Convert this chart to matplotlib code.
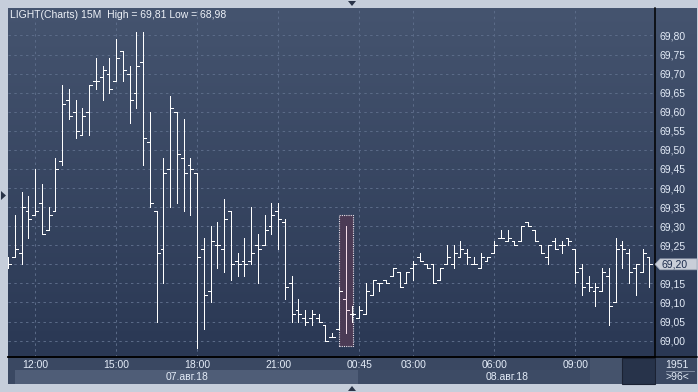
import numpy as np
import matplotlib
matplotlib.use('Agg')
import matplotlib.pyplot as plt
from matplotlib.collections import LineCollection
from matplotlib.patches import Rectangle, Polygon
import matplotlib.transforms as mtransforms

# 15 minute bars, LIGHT (Charts), 96 bars on screen
opens = [69.20, 69.22, 69.23, 69.34, 69.33, 69.36, 69.29, 69.34, 69.47, 69.63,
         69.60, 69.54, 69.60, 69.68, 69.69, 69.70, 69.68, 69.76, 69.70, 69.65,
         69.73, 69.52, 69.34, 69.24, 69.45, 69.60, 69.48, 69.46, 69.44, 69.24,
         69.13, 69.25, 69.24, 69.34, 69.21, 69.21, 69.21, 69.25, 69.25, 69.30,
         69.34, 69.31, 69.15, 69.08, 69.06, 69.06, 69.06, 69.04, 69.01, 69.03,
         69.11, 69.07, 69.06, 69.07, 69.12, 69.15, 69.16, 69.17, 69.18, 69.15,
         69.19, 69.22, 69.20, 69.20, 69.16, 69.20, 69.20, 69.22, 69.23, 69.20,
         69.19, 69.21, 69.23, 69.27, 69.26, 69.26, 69.26, 69.31, 69.29, 69.25,
         69.22, 69.26, 69.25, 69.27, 69.24, 69.19, 69.15, 69.13, 69.13, 69.17,
         69.10, 69.25, 69.23, 69.19, 69.18, 69.22]
highs = [69.22, 69.33, 69.39, 69.38, 69.45, 69.41, 69.35, 69.48, 69.67, 69.66,
         69.63, 69.61, 69.67, 69.74, 69.72, 69.74, 69.79, 69.76, 69.72, 69.81,
         69.81, 69.60, 69.34, 69.48, 69.64, 69.60, 69.58, 69.48, 69.44, 69.27,
         69.30, 69.31, 69.37, 69.34, 69.23, 69.27, 69.35, 69.28, 69.33, 69.36,
         69.36, 69.32, 69.17, 69.11, 69.08, 69.08, 69.07, 69.04, 69.02, 69.14,
         69.30, 69.09, 69.09, 69.15, 69.16, 69.15, 69.16, 69.19, 69.18, 69.18,
         69.21, 69.23, 69.20, 69.20, 69.19, 69.25, 69.25, 69.26, 69.24, 69.22,
         69.23, 69.22, 69.26, 69.29, 69.29, 69.26, 69.30, 69.31, 69.29, 69.25,
         69.25, 69.27, 69.26, 69.27, 69.24, 69.20, 69.17, 69.15, 69.19, 69.19,
         69.27, 69.26, 69.24, 69.20, 69.24, 69.22]
lows = [69.19, 69.22, 69.20, 69.27, 69.33, 69.28, 69.29, 69.34, 69.46, 69.58,
        69.53, 69.54, 69.54, 69.66, 69.63, 69.65, 69.68, 69.68, 69.57, 69.61,
        69.46, 69.35, 69.05, 69.15, 69.35, 69.36, 69.34, 69.33, 68.98, 69.03,
        69.10, 69.19, 69.18, 69.16, 69.17, 69.17, 69.20, 69.15, 69.25, 69.28,
        69.24, 69.11, 69.05, 69.05, 69.04, 69.04, 69.05, 69.00, 69.01, 69.03,
        69.02, 69.05, 69.06, 69.07, 69.12, 69.13, 69.15, 69.17, 69.14, 69.15,
        69.16, 69.21, 69.19, 69.15, 69.16, 69.20, 69.19, 69.22, 69.20, 69.20,
        69.19, 69.21, 69.23, 69.27, 69.26, 69.25, 69.26, 69.30, 69.26, 69.23,
        69.20, 69.24, 69.23, 69.25, 69.15, 69.12, 69.13, 69.09, 69.13, 69.04,
        69.10, 69.19, 69.15, 69.12, 69.18, 69.14]
closes = [69.20, 69.24, 69.35, 69.32, 69.34, 69.28, 69.33, 69.45, 69.62, 69.59,
          69.55, 69.59, 69.67, 69.68, 69.71, 69.66, 69.74, 69.71, 69.63, 69.72,
          69.53, 69.36, 69.23, 69.44, 69.61, 69.49, 69.44, 69.45, 69.22, 69.12,
          69.26, 69.25, 69.32, 69.20, 69.20, 69.20, 69.23, 69.24, 69.29, 69.33,
          69.32, 69.14, 69.07, 69.07, 69.05, 69.07, 69.05, 69.00, 69.01, 69.13,
          69.08, 69.07, 69.08, 69.13, 69.16, 69.15, 69.15, 69.19, 69.14, 69.18,
          69.20, 69.21, 69.19, 69.15, 69.19, 69.22, 69.23, 69.24, 69.22, 69.20,
          69.22, 69.22, 69.25, 69.27, 69.27, 69.25, 69.30, 69.30, 69.26, 69.23,
          69.25, 69.24, 69.25, 69.26, 69.18, 69.14, 69.14, 69.14, 69.18, 69.09,
          69.24, 69.24, 69.18, 69.20, 69.23, 69.20]

time_pos = [4, 16, 28, 40, 52, 60, 72, 84]
time_labels = ['12:00', '15:00', '18:00', '21:00', '00:45', '03:00', '06:00', '09:00']
date_pos = [26.5, 73.9]
date_labels = ['07.авг.18', '08.авг.18']
price_ticks = np.arange(69.00, 69.801, 0.05)
selected = 50

W, H = 698, 392
plt.rcParams['font.family'] = ['Liberation Sans', 'DejaVu Sans']
TXT = '#e4ecf8'

fig = plt.figure(figsize=(W / 100, H / 100), dpi=100)
fig.patch.set_facecolor('#c6cedb')

def box(x0, y0, x1, y1):
    # pixel box (top-left origin) -> figure fraction rect
    return [x0 / W, 1 - y1 / H, (x1 - x0) / W, (y1 - y0) / H]

def fx(x):
    return x / W

def fy(y):
    return 1 - y / H

def frect(x0, y0, x1, y1, color, **kw):
    fig.patches.append(Rectangle((fx(x0), fy(y1)), (x1 - x0) / W, (y1 - y0) / H,
                                 transform=fig.transFigure, facecolor=color,
                                 zorder=-1, **kw))

# gradient background behind chart and price scale
bg = fig.add_axes(box(8, 8, 697, 357))
grad = np.linspace(0, 1, 256).reshape(-1, 1)
top = np.array([0x45, 0x54, 0x6f]) / 255
bot = np.array([0x2a, 0x38, 0x54]) / 255
img = top[None, None, :] * (1 - grad[:, :, None]) + bot[None, None, :] * grad[:, :, None]
bg.imshow(img, aspect='auto', extent=[0, 1, 0, 1])
bg.set_axis_off()

ax = fig.add_axes(box(8, 8, 655, 357))
ax.patch.set_alpha(0)
ax.set_xlim(-0.03, 95.82)
ax.set_ylim(68.957, 69.872)

# grid
for p in price_ticks:
    ax.axhline(p, color='#5c6c89', lw=0.7, ls=(0, (2.5, 3.5)), zorder=1)
for t in time_pos:
    ax.axvline(t, color='#5c6c89', lw=0.7, ls=(0, (2.5, 3.5)), zorder=1)

# selection box around one bar
pad_lo, pad_hi = 0.035, 0.03
ax.add_patch(Rectangle((selected - 1.05, lows[selected] - pad_lo), 2.1,
                       highs[selected] - lows[selected] + pad_lo + pad_hi,
                       facecolor='#4b3b55', edgecolor='#e8e0e8', lw=0.8,
                       ls=(0, (1, 1)), zorder=2))

# OHLC bars
w = 0.42
segs = []
cols = []
for i in range(len(opens)):
    c = '#f4dde9' if i == selected else 'white'
    segs.append([(i, lows[i]), (i, highs[i])])
    segs.append([(i - w, opens[i]), (i, opens[i])])
    segs.append([(i, closes[i]), (i + w, closes[i])])
    cols += [c, c, c]
ax.add_collection(LineCollection(segs, colors=cols, linewidths=0.7,
                                 antialiaseds=False, zorder=3))

# axes look
for s in ['top', 'left']:
    ax.spines[s].set_visible(False)
ax.spines['right'].set_color('black')
ax.spines['bottom'].set_color('black')
ax.spines['right'].set_linewidth(1.1)
ax.spines['bottom'].set_linewidth(1.1)
last = closes[-1]
ax.yaxis.tick_right()
ax.set_yticks(price_ticks)
ax.set_yticklabels(['' if abs(p - last) < 1e-6 else ('%.2f' % p).replace('.', ',')
                    for p in price_ticks])
ax.tick_params(axis='y', length=0, pad=3, labelsize=7.5, labelcolor=TXT)
ax.set_xticks([])

# last price marker
tr = mtransforms.blended_transform_factory(ax.transAxes, ax.transData)
dx = 1 / 647
hh = 5.5 * (69.872 - 68.957) / 349
ax.add_patch(Polygon([(1, last), (1 + 5 * dx, last + hh), (1 + 42 * dx, last + hh),
                      (1 + 42 * dx, last - hh), (1 + 5 * dx, last - hh)],
                     closed=True, transform=tr, clip_on=False,
                     facecolor='#c9ced8', edgecolor='#9aa4b4', lw=0.5, zorder=5))
ax.text(1 + 6 * dx, last, ('%.2f' % last).replace('.', ','), transform=tr,
        ha='left', va='center', fontsize=7.5, color='#1c2c4c', zorder=6)

# header
ax.text(2 / 647, 1 - 7 / 349, 'LIGHT(Charts) 15M  High = %s Low = %s' % (
    ('%.2f' % max(highs)).replace('.', ','), ('%.2f' % min(lows)).replace('.', ',')),
    transform=ax.transAxes, ha='left', va='center', fontsize=7.5, color='#eef2f8')

# bottom time scale
frect(8, 357, 697, 384, '#3a4862')
frect(15, 370, 358, 384, '#4f5d77')
frect(358, 370, 622, 384, '#3d4b65')
frect(590, 358, 622, 384, '#45536c')
frect(622, 358, 655, 384, '#27334a', edgecolor='#1b2233', lw=0.8)
frect(656, 358, 697, 384, '#3a4862')
fig.lines.append(plt.Line2D([fx(8), fx(697)], [fy(357), fy(357)],
                            transform=fig.transFigure, color='black', lw=1.1))
fig.lines.append(plt.Line2D([fx(666), fx(694)], [fy(371), fy(371)],
                            transform=fig.transFigure, color='#8c98ac', lw=0.6))

xt = mtransforms.blended_transform_factory(ax.transData, fig.transFigure)
for p, lab in zip(time_pos, time_labels):
    ax.text(p, fy(364.5), lab, transform=xt, ha='center', va='center',
            fontsize=7.5, color=TXT, clip_on=False)
for p, lab in zip(date_pos, date_labels):
    ax.text(p, fy(377.5), lab, transform=xt, ha='center', va='center',
            fontsize=7.5, color=TXT, clip_on=False)
fig.text(fx(677), fy(364.5), '1951', ha='center', va='center', fontsize=7.5, color=TXT)
fig.text(fx(677), fy(377.5), '>96<', ha='center', va='center', fontsize=7.5, color=TXT)

# little scroll arrows on the frame
fig.patches.append(Polygon([(fx(348), fy(1)), (fx(356), fy(1)), (fx(352), fy(6))],
                           closed=True, transform=fig.transFigure, facecolor='#2a3448'))
fig.patches.append(Polygon([(fx(348), fy(391)), (fx(356), fy(391)), (fx(352), fy(386))],
                           closed=True, transform=fig.transFigure, facecolor='#2a3448'))
fig.patches.append(Polygon([(fx(1), fy(191)), (fx(1), fy(200)), (fx(6), fy(195.5))],
                           closed=True, transform=fig.transFigure, facecolor='#2a3448'))

fig.savefig('out.png', dpi=100, facecolor=fig.get_facecolor())
